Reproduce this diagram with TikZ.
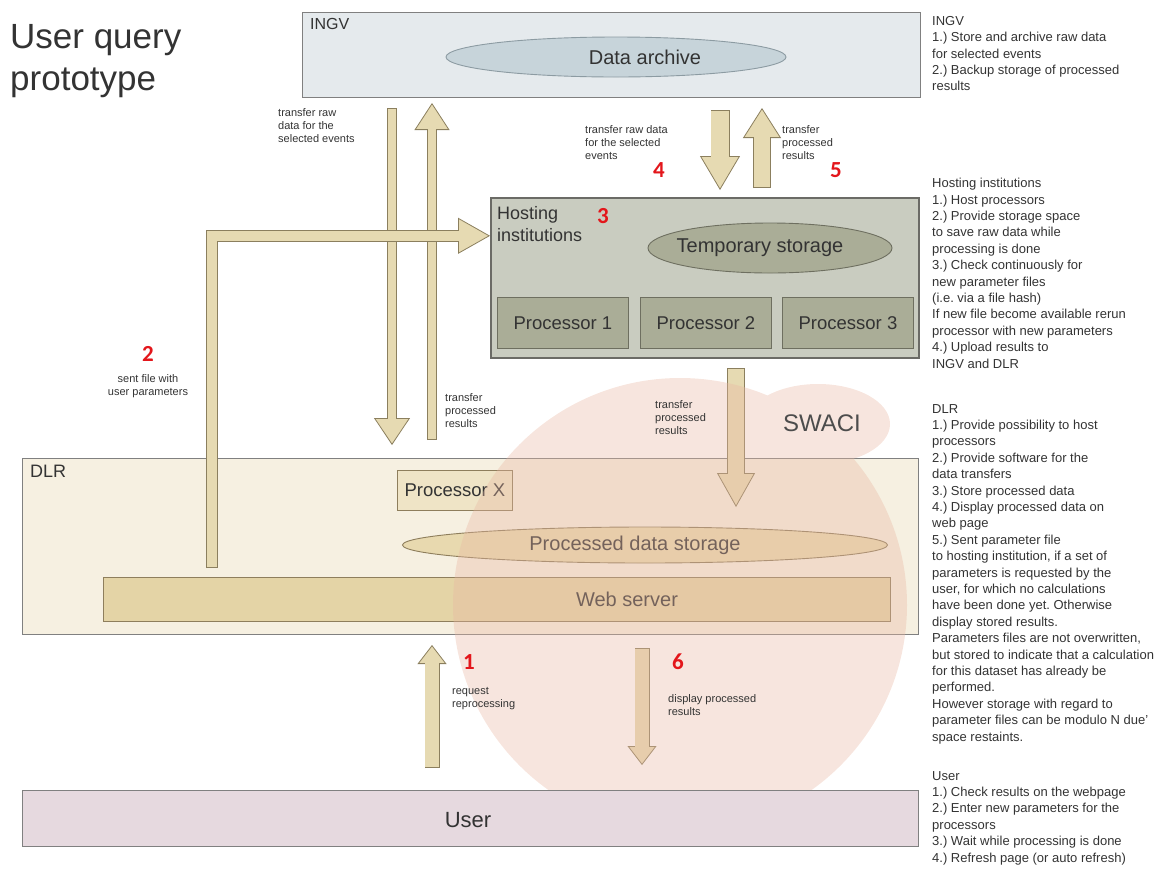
\documentclass[tikz,border=0pt]{standalone}
\usepackage{fontspec}
\setmainfont{Liberation Sans}
\newfontfamily\numfont{Carlito}
\usetikzlibrary{positioning,shapes.geometric,arrows.meta}
\frenchspacing

\definecolor{textgray}{HTML}{333333}
\definecolor{stepred}{HTML}{E3161B}
\definecolor{ingvfill}{HTML}{E5EAED}
\definecolor{archivefill}{HTML}{C7D4DA}
\definecolor{archiveline}{HTML}{8C9BA2}
\definecolor{hostfill}{HTML}{C9CCC0}
\definecolor{hostline}{HTML}{6B6B66}
\definecolor{procfill}{HTML}{AAAD97}
\definecolor{procline}{HTML}{6E6F60}
\definecolor{dlrfill}{HTML}{F6F0E1}
\definecolor{procxfill}{HTML}{EFE4C6}
\definecolor{warmline}{HTML}{8E7E5C}
\definecolor{storefill}{HTML}{E8D9AF}
\definecolor{webfill}{HTML}{E4D4A6}
\definecolor{userfill}{HTML}{E6D9DF}
\definecolor{boxline}{HTML}{808080}
\definecolor{arrowfill}{HTML}{E6DAB2}
\definecolor{arrowline}{HTML}{8B7F5E}
\definecolor{swacifill}{HTML}{E9B8A3}

\tikzset{
  box/.style={rectangle, line width=0.9pt, anchor=north west, inner sep=0pt},
  store/.style={ellipse, line width=0.9pt, inner sep=0pt},
  boxtext/.style={text=textgray, font=\fontsize{20}{22}\selectfont},
  note/.style={anchor=north west, align=left, inner sep=0pt, text=textgray,
    font=\fontsize{13}{16.4}\selectfont},
  tag/.style={align=left, inner sep=0pt, text=textgray,
    font=\fontsize{11}{13}\selectfont},
  stepno/.style={inner sep=0pt, text=stepred,
    font=\numfont\bfseries\fontsize{23}{23}\selectfont},
  fatarrow/.style n args={3}{draw=arrowline, line width=#1,
    -{Triangle[width=#2, length=#3, fill=arrowfill, line width=0.8pt]},
    postaction={draw=arrowfill, line width={#1-1.6pt}, arrows=-,
      shorten >={#3-1pt}, shorten <=0.8pt}}
}

\begin{document}
\begin{tikzpicture}[x=1pt,y=-1pt]
  \useasboundingbox (0,0) rectangle (1164,868);

  % title
  \node[anchor=north west, align=left, inner sep=0pt, text=textgray,
    font=\fontsize{35}{42}\selectfont] (title) at (10,24) {User query\\prototype};

  % INGV
  \node[box, draw=boxline, fill=ingvfill, minimum width=618, minimum height=85]
    (ingv) at (302,12) {};
  \node[anchor=north west, inner sep=0pt, text=textgray,
    font=\fontsize{16}{18}\selectfont] (ingvlbl) at (310,18) {INGV};
  \node[store, draw=archiveline, fill=archivefill, minimum width=340,
    minimum height=40] (archive) at (616,57) {};
  \node[boxtext] at (645,57) {Data archive};

  % hosting institutions
  \node[box, draw=hostline, fill=hostfill, line width=1.6pt, minimum width=428,
    minimum height=160] (host) at (490,197) {};
  \node[anchor=north west, align=left, inner sep=0pt, text=textgray,
    font=\fontsize{18}{22}\selectfont] (hostlbl) at (497,206) {Hosting\\institutions};
  \node[stepno] (n3) at (603,216) {3};
  \node[store, draw=procline, fill=procfill, minimum width=244,
    minimum height=50] (tempstore) at (770,248) {};
  \node[boxtext] at (760,248) {Temporary storage};
  \node[box, draw=procline, fill=procfill, minimum width=131, minimum height=51]
    (proc1) at (497,297) {};
  \node[box, draw=procline, fill=procfill, minimum width=131, minimum height=51]
    (proc2) at (640,297) {};
  \node[box, draw=procline, fill=procfill, minimum width=131, minimum height=51]
    (proc3) at (782,297) {};
  \node[text=textgray, font=\fontsize{18.5}{20}\selectfont] at (proc1) {Processor 1};
  \node[text=textgray, font=\fontsize{18.5}{20}\selectfont] at (proc2) {Processor 2};
  \node[text=textgray, font=\fontsize{18.5}{20}\selectfont] at (proc3) {Processor 3};

  % DLR
  \node[box, draw=boxline, fill=dlrfill, minimum width=896, minimum height=176]
    (dlr) at (22,458) {};
  \node[anchor=north west, inner sep=0pt, text=textgray,
    font=\fontsize{18}{22}\selectfont] (dlrlbl) at (30,465) {DLR};
  \node[box, draw=warmline, fill=procxfill, minimum width=115, minimum height=40]
    (procx) at (397,470) {};
  \node[text=textgray, font=\fontsize{18.5}{20}\selectfont] at (procx) {Processor X};
  \node[store, draw=warmline, fill=storefill, minimum width=485,
    minimum height=36] (datastore) at (645,545) {};
  \node[boxtext] at (635,545) {Processed data storage};
  \node[box, draw=warmline, fill=webfill, minimum width=787, minimum height=44]
    (websrv) at (103,577) {};
  \node[boxtext] at (627,599) {Web server};

  % transfers
  \coordinate (rawA) at (392,108);
  \coordinate (rawB) at (392,445);
  \coordinate (resA) at (432,440);
  \coordinate (resB) at (432,103);
  \coordinate (getA) at (720,110);
  \coordinate (getB) at (720,190);
  \coordinate (putA) at (762,188);
  \coordinate (putB) at (762,108);
  \coordinate (parA) at (212,568);
  \coordinate (outA) at (736,368);
  \coordinate (outB) at (736,507);
  \coordinate (reqA) at (432,768);
  \coordinate (reqB) at (432,645);
  \coordinate (showA) at (642,648);
  \coordinate (showB) at (642,765);

  \draw[fatarrow={10pt}{36pt}{27pt}] (rawA) -- (rawB);
  \draw[fatarrow={10pt}{35pt}{27pt}] (resA) -- (resB);
  \draw[fatarrow={19pt}{40pt}{34pt}] (getA) -- (getB);
  \draw[fatarrow={18pt}{38pt}{30pt}] (putA) -- (putB);
  \draw[fatarrow={12pt}{36pt}{32pt}] (parA) |- ([yshift=42pt]host.west);
  \draw[fatarrow={18pt}{38pt}{34pt}] (outA) -- (outB);
  \draw[fatarrow={15pt}{29pt}{19pt}] (reqA) -- (reqB);
  \draw[fatarrow={15pt}{29pt}{19pt}] (showA) -- (showB);

  % SWACI
  \fill[swacifill, fill opacity=0.36] (680,605) circle (227)
    (818,424) ellipse (72 and 40);
  \node[text=black!70, font=\fontsize{24}{26}\selectfont] (swaci) at (822,423) {SWACI};

  % user
  \node[box, draw=boxline, fill=userfill, minimum width=896, minimum height=56]
    (user) at (22,790) {};
  \node[text=textgray, font=\fontsize{22}{24}\selectfont] at (468,820) {User};

  % labels
  \node[tag, anchor=north west] (rawtag) at (278,108)
    {transfer raw\\data for the\\selected events};
  \node[tag, anchor=north west] (restag) at (445,393)
    {transfer\\processed\\results};
  \node[tag, anchor=north west] (gettag) at (585,125)
    {transfer raw data\\for the selected\\events};
  \node[stepno] (n4) at (659,170) {4};
  \node[tag, anchor=north west] (puttag) at (782,125)
    {transfer\\processed\\results};
  \node[stepno] (n5) at (836,170) {5};
  \node[stepno] (n2) at (148,354) {2};
  \node[tag, align=center, anchor=north] (partag) at (148,374)
    {sent file with\\user parameters};
  \node[tag, anchor=north west] (outtag) at (655,400)
    {transfer\\processed\\results};
  \node[stepno] (n1) at (469,662) {1};
  \node[tag, anchor=north west] (reqtag) at (452,687)
    {request\\reprocessing};
  \node[stepno] (n6) at (678,662) {6};
  \node[tag, anchor=north west] (showtag) at (668,694)
    {display processed\\results};

  % notes
  \node[note] (ingvnote) at (932,16) {INGV\\
    1.) Store and archive raw data\\
    for selected events\\
    2.) Backup storage of processed\\
    results};
  \node[note] (hostnote) at (932,178) {Hosting institutions\\
    1.) Host processors\\
    2.) Provide storage space\\
    to save raw data while\\
    processing is done\\
    3.) Check continuously for\\
    new parameter files\\
    (i.e. via a file hash)\\
    If new file become available rerun\\
    processor with new parameters\\
    4.) Upload results to\\
    INGV and DLR};
  \node[note] (dlrnote) at (932,404) {DLR\\
    1.) Provide possibility to host\\
    processors\\
    2.) Provide software for the\\
    data transfers\\
    3.) Store processed data\\
    4.) Display processed data on\\
    web page\\
    5.) Sent parameter file\\
    to hosting institution, if a set of\\
    parameters is requested by the\\
    user, for which no calculations\\
    have been done yet. Otherwise\\
    display stored results.\\
    Parameters files are not overwritten,\\
    but stored to indicate that a calculation\\
    for this dataset has already be\\
    performed.\\
    However storage with regard to\\
    parameter files can be modulo N due'\\
    space restaints.};
  \node[note] (usernote) at (932,771) {User\\
    1.) Check results on the webpage\\
    2.) Enter new parameters for the\\
    processors\\
    3.) Wait while processing is done\\
    4.) Refresh page (or auto refresh)};
\end{tikzpicture}
\end{document}
